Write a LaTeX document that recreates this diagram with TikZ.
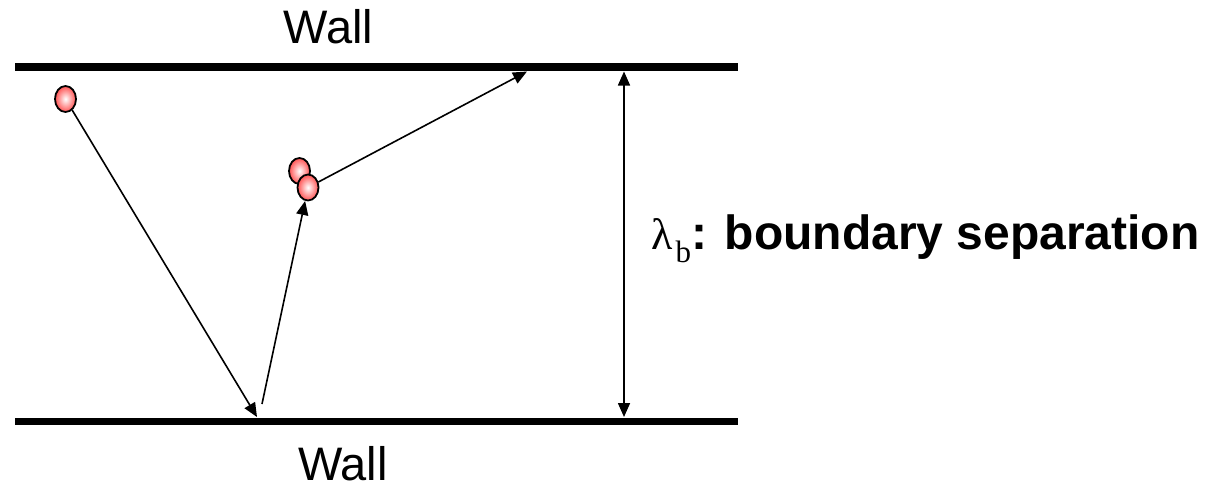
\documentclass[tikz,border=0pt]{standalone}
\usepackage{fontspec}
\setmainfont{Liberation Sans}
\newfontfamily\serifgreek{Liberation Serif}
\usetikzlibrary{arrows.meta,shapes.geometric}
\tikzset{
  wall/.style={line width=7.5pt},
  particle/.style={ellipse, draw=black, line width=1.8pt, minimum width=21pt, minimum height=26pt, inner sep=0pt, inner color=white, outer color=red!68!white, shading=radial},
  conn/.style={line width=1.6pt, -{Triangle[length=14pt,width=12pt]}},
  dbl/.style={line width=1.6pt, {Triangle[length=14pt,width=12pt]}-{Triangle[length=14pt,width=12pt]}},
  lbl/.style={font=\fontsize{47}{50}\selectfont, inner sep=0pt, anchor=base}
}
\begin{document}
\begin{tikzpicture}[x=1pt,y=-1pt]
\useasboundingbox (0,0) rectangle (1205,491);
% walls
\coordinate (tw1) at (15,67);
\coordinate (tw2) at (738,67);
\coordinate (bw1) at (15,421.5);
\coordinate (bw2) at (738,421.5);
\draw[wall] (tw1) -- (tw2);
\draw[wall] (bw1) -- (bw2);
\node[lbl] (wtop) at (328.5,43) {Wall};
\node[lbl] (wbot) at (343,480) {Wall};
% particles
\node[particle] (p1) at (65.5,99) {};
\node[particle] (p2) at (299.5,171) {};
\node[particle] (p3) at (308,187.5) {};
% connectors
\coordinate (b1) at (257,417);
\coordinate (b2) at (262,404);
\coordinate (t1) at (527,71.5);
\coordinate (d1) at (624,71.5);
\coordinate (d2) at (624,417);
\draw[conn] (p1) -- (b1);
\draw[conn] (b2) -- (p3);
\draw[conn] (p3) -- (t1);
\draw[dbl] (d1) -- (d2);
% label
\node[inner sep=0pt, anchor=base west, font=\fontsize{48}{50}\selectfont] (lab) at (651,249)
  {{\serifgreek\fontsize{44}{46}\selectfont λ\kern3pt\raisebox{-13pt}{\fontsize{31}{32}\selectfont b}}\textbf{: boundary separation}};
\end{tikzpicture}
\end{document}
